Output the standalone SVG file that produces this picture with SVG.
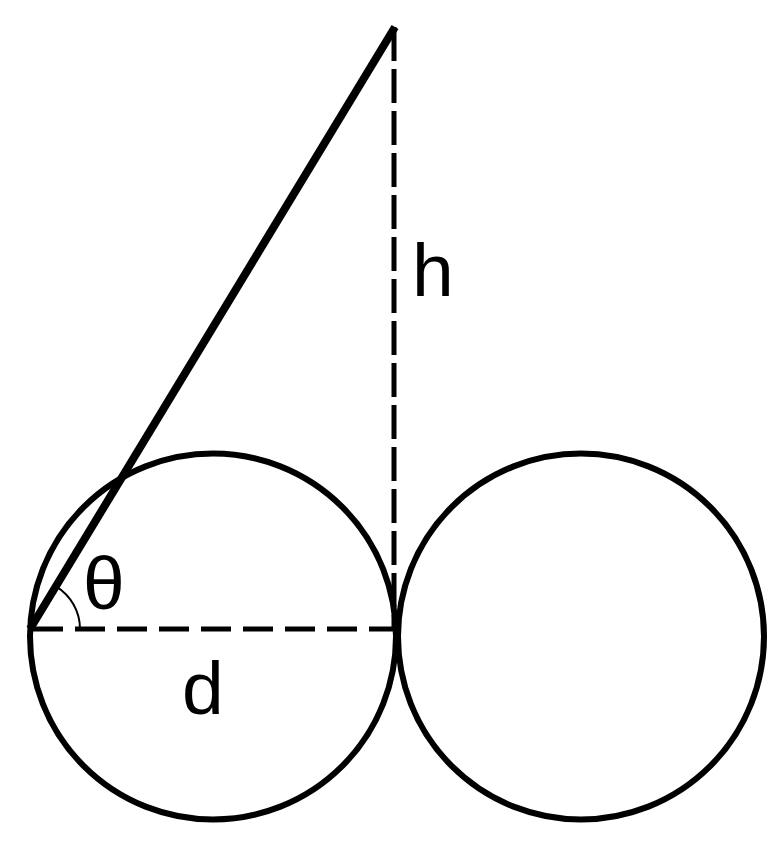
<svg xmlns="http://www.w3.org/2000/svg" width="778" height="844" viewBox="0 0 778 844">
<style>
.c{fill:none;stroke:#000;stroke-width:6}
.d{fill:none;stroke:#000;stroke-width:5}
.t{font-family:"Liberation Sans",Arial,sans-serif;font-size:75px;fill:#000}
</style>
<rect width="778" height="844" fill="#fff"/>
<g id="circle-left"><circle class="c" cx="213" cy="636.5" r="183"/></g>
<g id="circle-right"><circle class="c" cx="581" cy="636.5" r="183"/></g>
<g id="connectors">
<line x1="30" y1="629" x2="395" y2="27" stroke="#000" stroke-width="8"/>
<line class="d" x1="394" y1="27" x2="394" y2="629" stroke-dasharray="34 8"/>
<line class="d" x1="33" y1="629" x2="394" y2="629" stroke-dasharray="30 12"/>
<path d="M80 629 A50 50 0 0 0 55.9 586.3" fill="none" stroke="#000" stroke-width="2"/>
</g>
<g id="labels">
<text class="t" x="412" y="296">h</text>
<text class="t" x="83" y="609">θ</text>
<text class="t" x="182" y="714">d</text>
</g>
</svg>
